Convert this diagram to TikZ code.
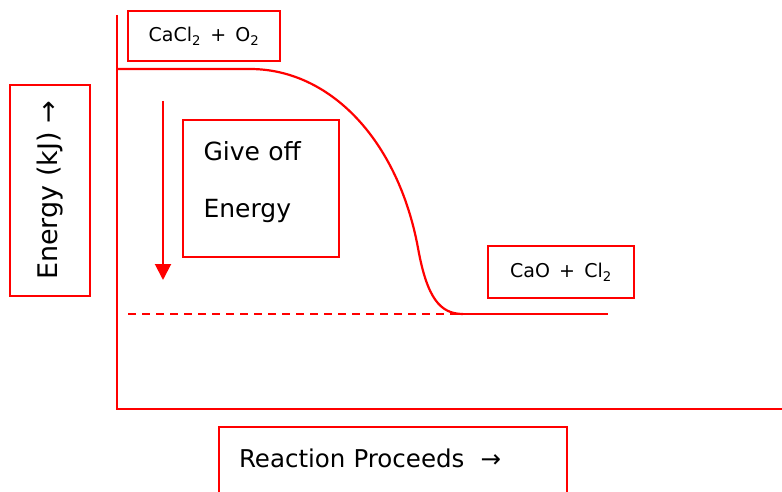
\documentclass[tikz,border=0pt]{standalone}
\usepackage{fontspec}
\setmainfont{DejaVu Sans}
\usetikzlibrary{arrows.meta}

\tikzset{
  redbox/.style={draw=red,line width=2pt,inner sep=0pt},
  level/.style={red,line width=2.2pt},
}

\begin{document}
\begin{tikzpicture}[x=1pt,y=-1pt,>={Triangle[width=16pt,length=16pt]}]
  \useasboundingbox (0,0) rectangle (782,492);
  % axes
  \coordinate (ytop) at (117,15);
  \coordinate (orig) at (117,409);
  \coordinate (xend) at (782,409);
  \draw[red,line width=2pt] (ytop)--(orig)--(xend);
  % energy levels
  \coordinate (hi) at (117,69);
  \coordinate (bend) at (250,69);
  \coordinate (lo) at (463,314);
  \coordinate (loend) at (608,314);
  \coordinate (dashstart) at (128,314);
  \draw[level] (hi)--(bend) .. controls (330,69) and (398,140) .. (418,248)
    .. controls (427,298) and (440,314) .. (lo);
  \draw[red,line width=2.8pt] (lo)--(loend);
  \draw[red,line width=2pt,dash pattern=on 8pt off 6pt] (dashstart)--(lo);
  % labels
  \node[redbox,minimum width=152,minimum height=50,font=\fontsize{19}{22}\selectfont] (cacl) at (204,36) {CaCl\textsubscript{2}\, +\, O\textsubscript{2}};
  \node[redbox,minimum width=146,minimum height=52,font=\fontsize{19}{22}\selectfont] (cao) at (561,272) {CaO\, +\, Cl\textsubscript{2}};
  \node[redbox,rotate=90,minimum width=211,minimum height=80,font=\fontsize{27}{30}\selectfont] (energy) at (50,190.5) {Energy (kJ) →};
  \node[redbox,minimum width=156,minimum height=137,text width=115,align=left,text depth=74,
        font=\fontsize{25}{57}\selectfont] (giveoff) at (261,188.5) {Give off\\Energy};
  \node[redbox,anchor=north west,minimum width=348,text width=308,align=left,
        text height=40,text depth=60,font=\fontsize{24.5}{28}\selectfont] (react) at (218,426) {Reaction Proceeds\ \ →};
  % give off arrow
  \coordinate (atop) at (163,101);
  \coordinate (abot) at (163,280);
  \draw[->,red,line width=2pt] (atop)--(abot);
\end{tikzpicture}
\end{document}
